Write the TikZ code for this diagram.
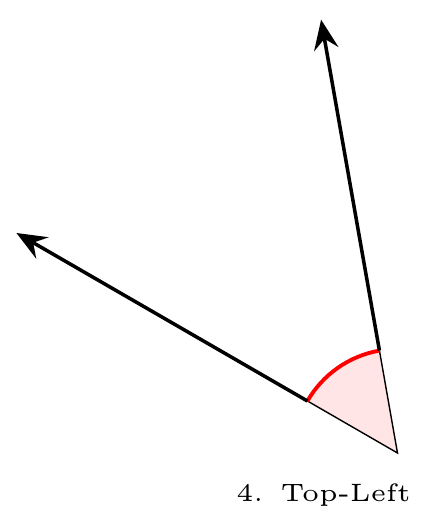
\documentclass[tikz,border=0pt]{standalone}
\usetikzlibrary{arrows.meta}
\begin{document}
\begin{tikzpicture}[vec/.style={draw,line width=1pt,-{Stealth[length=8.5pt,width=7pt,inset=3pt]}}]
	\useasboundingbox (-3.975,-0.75) rectangle (0.345,4.53);
	\coordinate (O) at (0,0);
	\coordinate (A) at (150:4.4);
	\coordinate (B) at (100:4.4);
	\coordinate (a) at (150:1.04);
	\coordinate (b) at (100:1.04);
	
	\fill[red!10] (O) -- (a) arc[start angle=150, end angle=100, radius=1.04] -- cycle;
	\draw[thin] (a) -- (O) -- (b);
	\draw[red,line width=1.1pt] (a) arc[start angle=150, end angle=100, radius=1.04];
	
	\path[vec] (a) -- (A);
	\path[vec] (b) -- (B);
	
	\node (lbl) at (-0.74,-0.49) [anchor=base,inner sep=0pt,scale=1.43] {\fontsize{5}{6}\selectfont 4.\hspace{3.4pt}Top-Left};
\end{tikzpicture}
\end{document}
